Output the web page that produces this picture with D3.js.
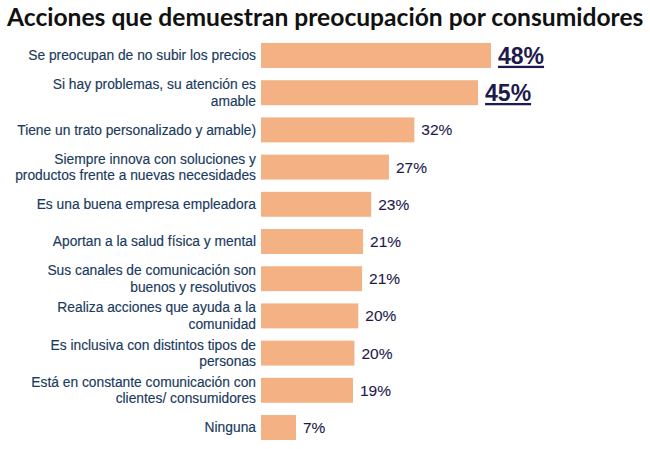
<!DOCTYPE html>
<html>
<head>
<meta charset="utf-8">
<script src="https://cdn.jsdelivr.net/npm/d3@7"></script>
<style>
  body { margin: 0; background: #fff; }
</style>
</head>
<body>
<div id="chart"></div>
<script>
const width = 650;
const height = 449;

// Categories (line breaks as in the original)
const categories = [
  "Se preocupan de no subir los precios",
  "Si hay problemas, su atención es\namable",
  "Tiene un trato personalizado y amable)",
  "Siempre innova con soluciones y\nproductos frente a nuevas necesidades",
  "Es una buena empresa empleadora",
  "Aportan a la salud física y mental",
  "Sus canales de comunicación son\nbuenos y resolutivos",
  "Realiza acciones que ayuda a la\ncomunidad",
  "Es inclusiva con distintos tipos de\npersonas",
  "Está en constante comunicación con\nclientes/ consumidores",
  "Ninguna"
];
// Shares in percent
const values = [48.0, 45.3, 32.0, 26.7, 23.0, 21.3, 21.1, 20.3, 19.5, 19.2, 7.3];
const valueLabels = ["48%", "45%", "32%", "27%", "23%", "21%", "21%", "20%", "20%", "19%", "7%"];
const highlighted = [true, true, false, false, false, false, false, false, false, false, false];

const svg = d3.select("#chart")
  .append("svg")
  .attr("width", width)
  .attr("height", height);

const x = d3.scaleLinear()
  .domain([0, 48])
  .range([261, 491]);

const y = d3.scaleBand()
  .domain(categories)
  .range([36.9, 446.1])
  .paddingInner(0.33)
  .paddingOuter(0.165);

// Title
svg.append("text")
  .attr("x", 7)
  .attr("y", 26)
  .attr("font-family", "Lato, sans-serif")
  .attr("font-weight", "bold")
  .attr("font-size", "24.6px")
  .attr("fill", "#111")
  .text("Acciones que demuestran preocupación por consumidores");

// Bars
svg.selectAll("rect.bar")
  .data(values)
  .join("rect")
  .attr("class", "bar")
  .attr("x", x(0))
  .attr("y", (d, i) => y(categories[i]))
  .attr("width", d => x(d) - x(0))
  .attr("height", y.bandwidth())
  .attr("fill", "#F4B183");

// Category labels
const lineHeight = 16.5;
svg.selectAll("text.cat")
  .data(categories)
  .join("text")
  .attr("class", "cat")
  .attr("text-anchor", "end")
  .attr("font-family", "'Liberation Sans', Arial, sans-serif")
  .attr("font-size", "13.8px")
  .attr("fill", "#1B3A5C")
  .attr("stroke", "#1B3A5C")
  .attr("stroke-width", 0.15)
  .each(function(d) {
    const lines = d.split("\n");
    const cy = y(d) + y.bandwidth() / 2;
    const startY = cy - (lines.length - 1) * lineHeight / 2;
    d3.select(this).selectAll("tspan")
      .data(lines)
      .join("tspan")
      .attr("x", 256)
      .attr("y", (l, j) => startY + j * lineHeight)
      .attr("dy", "0.35em")
      .text(l => l);
  });

// Value labels
svg.selectAll("text.val")
  .data(values)
  .join("text")
  .attr("class", "val")
  .attr("x", d => x(d) + 7)
  .attr("y", (d, i) => y(categories[i]) + y.bandwidth() / 2)
  .attr("dy", "0.36em")
  .attr("font-family", "'Liberation Sans', Arial, sans-serif")
  .attr("font-size", (d, i) => highlighted[i] ? "23px" : "15.5px")
  .attr("font-weight", "bold")
  .attr("stroke", (d, i) => highlighted[i] ? null : "#1E1A4D")
  .attr("stroke-width", 0.1)
  .attr("font-weight", (d, i) => highlighted[i] ? "bold" : "normal")
  .attr("text-decoration", (d, i) => highlighted[i] ? "underline" : null)
  .attr("fill", "#1E1A4D")
  .text((d, i) => valueLabels[i]);
</script>
</body>
</html>
